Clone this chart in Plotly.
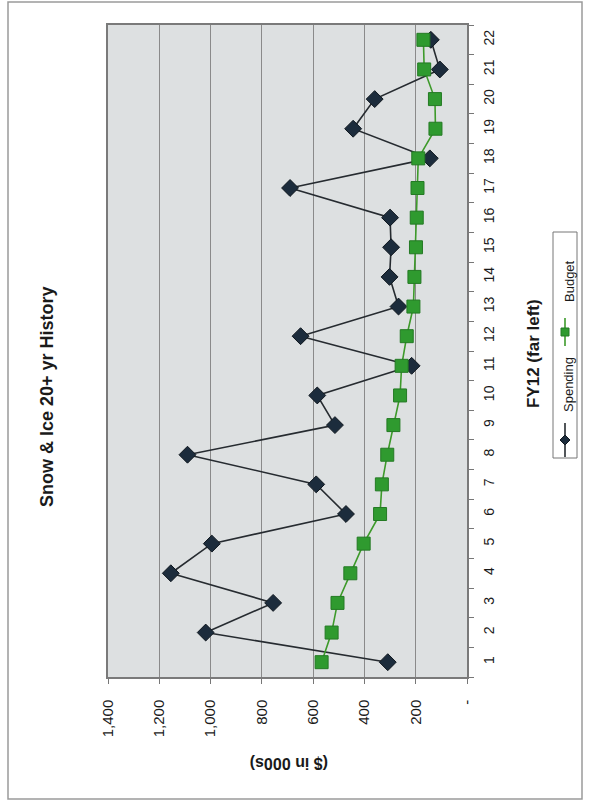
import plotly.graph_objects as go

categories = [str(i) for i in range(1, 23)]
spending = [309, 1019, 756, 1155, 995, 472, 588, 1090, 515, 584, 216, 649,
            267, 302, 296, 300, 690, 145, 444, 360, 106, 141]
budget = [567, 528, 505, 455, 403, 339, 332, 311, 287, 261, 255, 235,
          209, 205, 199, 196, 193, 190, 123, 125, 167, 170]
value_ticks = [0, 200, 400, 600, 800, 1000, 1200, 1400]
value_tick_text = ["-", "200", "400", "600", "800", "1,000", "1,200", "1,400"]

W, H = 589, 805
L, R, T, B = 108, 467, 25, 677
FONT = "Liberation Sans, Arial, sans-serif"


def px(x):
    return (x - L) / (R - L)


def py(y):
    return (B - y) / (B - T)


fig = go.Figure()
fig.add_trace(go.Scatter(
    x=spending, y=categories, mode="lines+markers", name="Spending",
    line=dict(color="#262b30", width=1.6),
    marker=dict(symbol="diamond", size=13, color="#1c2c3c",
                line=dict(color="#10181f", width=1)),
))
fig.add_trace(go.Scatter(
    x=budget, y=categories, mode="lines+markers", name="Budget",
    line=dict(color="#3d9a2a", width=1.6),
    marker=dict(symbol="square", size=13, color="#2f9a2f",
                line=dict(color="#247a24", width=1)),
))

shapes = []
# outer frame
shapes.append(dict(type="rect", xref="paper", yref="paper",
                   x0=px(8), x1=px(582), y0=py(2), y1=py(799),
                   line=dict(color="#9a9a9a", width=1.5), layer="below"))
# legend box
shapes.append(dict(type="rect", xref="paper", yref="paper",
                   x0=px(553), x1=px(577), y0=py(232), y1=py(458),
                   line=dict(color="#777777", width=1), fillcolor="white"))
# legend: spending
shapes.append(dict(type="line", xref="paper", yref="paper",
                   x0=px(565), x1=px(565), y0=py(457), y1=py(423),
                   line=dict(color="#262b30", width=1.6)))
cx, cy, d = 565, 440, 5
shapes.append(dict(type="path", xref="paper", yref="paper",
                   path=f"M {px(cx)},{py(cy-d)} L {px(cx+d)},{py(cy)} L {px(cx)},{py(cy+d)} L {px(cx-d)},{py(cy)} Z",
                   fillcolor="#1c2c3c", line=dict(color="#10181f", width=1)))
# legend: budget
shapes.append(dict(type="line", xref="paper", yref="paper",
                   x0=px(565), x1=px(565), y0=py(346), y1=py(318),
                   line=dict(color="#3d9a2a", width=1.6)))
s = 4
shapes.append(dict(type="rect", xref="paper", yref="paper",
                   x0=px(565 - s), x1=px(565 + s), y0=py(332 - s), y1=py(332 + s),
                   fillcolor="#2f9a2f", line=dict(color="#247a24", width=1)))


def label(text, x, y, angle, size):
    return dict(text=text, x=px(x), y=py(y), xref="paper", yref="paper",
                xanchor="center", yanchor="middle", showarrow=False,
                textangle=angle, font=dict(family=FONT, size=size, color="#1a1a1a"))


annotations = [
    label("<b>Snow & Ice 20+ yr History</b>", 47, 397, -90, 18),
    label("<b>($ in 000s)</b>", 289, 763, 180, 16),
    label("<b>FY12 (far left)</b>", 533, 354, -90, 17),
    label("Spending", 569, 385, -90, 13),
    label("Budget", 569, 281, -90, 13),
]

fig.update_layout(
    width=W, height=H,
    margin=dict(l=L, r=W - R, t=T, b=H - B, pad=0),
    paper_bgcolor="white", plot_bgcolor="#dde0e1",
    showlegend=False,
    shapes=shapes, annotations=annotations,
    font=dict(family=FONT, color="#1a1a1a"),
    xaxis=dict(range=[1400, 0], tickvals=value_ticks, ticktext=value_tick_text,
               tickangle=-90, ticks="outside", ticklen=5, tickcolor="#777",
               ticklabelstandoff=10,
               showgrid=True, gridcolor="#8a8a8a", gridwidth=1,
               showline=True, linecolor="#7a7a7a", linewidth=1.5, mirror=True,
               zeroline=False, tickfont=dict(size=15, family=FONT)),
    yaxis=dict(type="category", categoryorder="array", categoryarray=categories,
               side="right", tickangle=-90, ticks="outside", ticklen=5,
               ticklabelstandoff=8,
               tickson="boundaries", tickcolor="#777", showgrid=False,
               showline=True, linecolor="#7a7a7a", linewidth=1.5, mirror=True,
               range=[-0.5, 21.5], tickfont=dict(size=14, family=FONT)),
)

fig.write_html("out.html", config={"displayModeBar": False},
               post_script="document.body.style.margin='0';document.body.style.overflow='hidden';")
